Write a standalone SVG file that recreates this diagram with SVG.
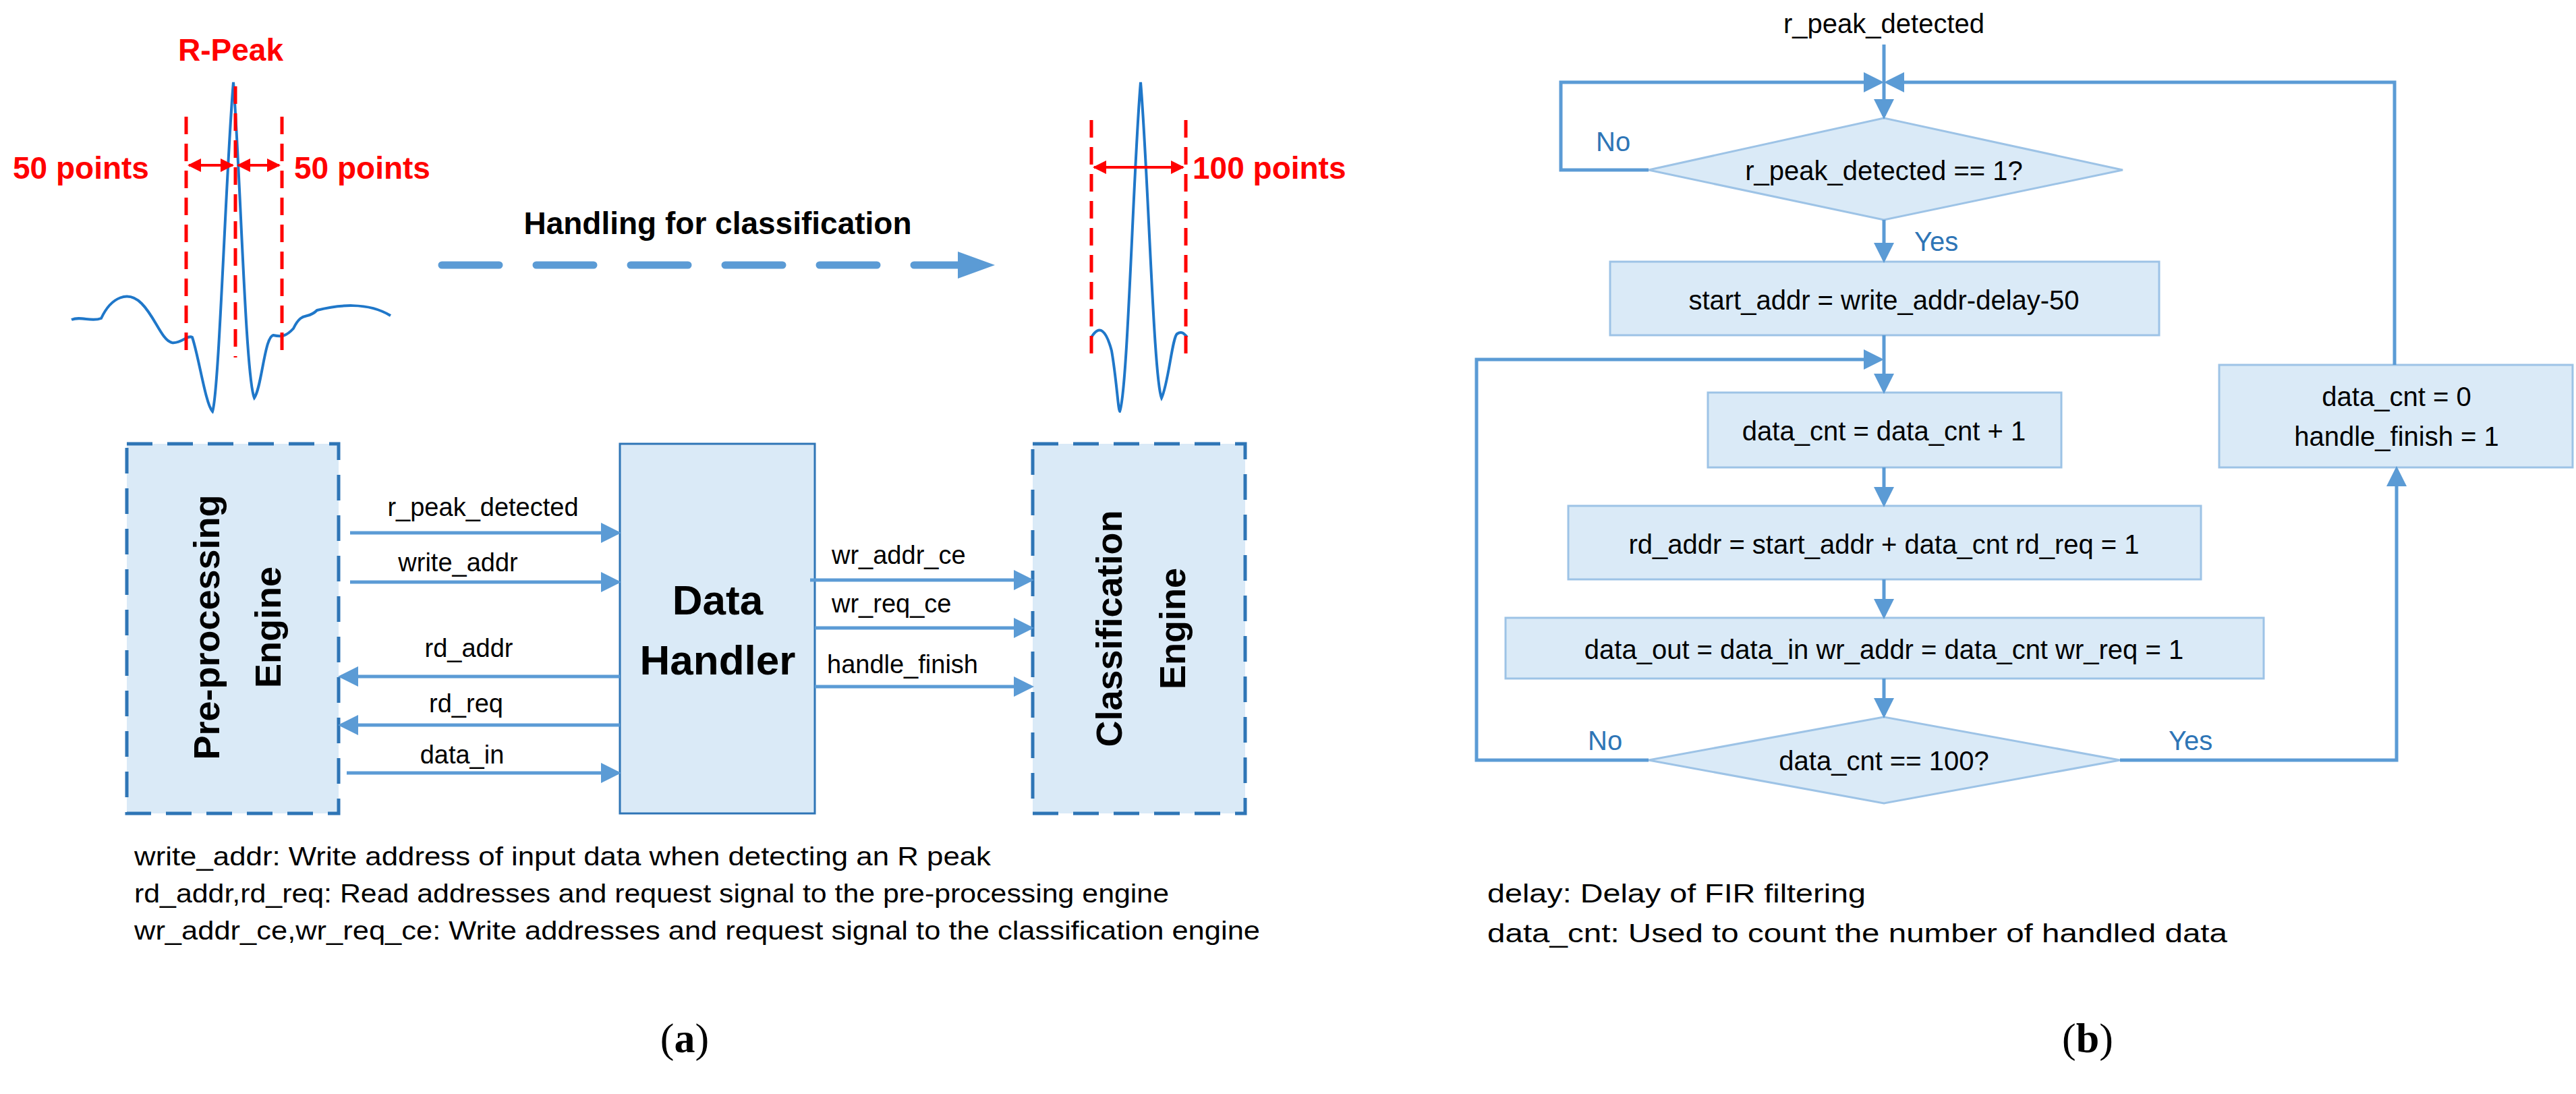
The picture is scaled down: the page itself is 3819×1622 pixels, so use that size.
<svg xmlns="http://www.w3.org/2000/svg" width="3819" height="1622" viewBox="0 0 3819 1622">
<style>
.t{font-family:"Liberation Sans",Arial,sans-serif;font-size:38px;fill:#000}
.ft{font-family:"Liberation Sans",Arial,sans-serif;font-size:40px;fill:#000;text-anchor:middle}
.red{font-family:"Liberation Sans",Arial,sans-serif;font-size:46px;font-weight:bold;fill:#FF0000}
.big{font-family:"Liberation Sans",Arial,sans-serif;font-weight:bold;fill:#000;text-anchor:middle}
.yn{font-family:"Liberation Sans",Arial,sans-serif;font-size:40px;fill:#2E75B6}
.cap{font-family:"Liberation Serif","Times New Roman",serif;font-size:62px;fill:#000;text-anchor:middle}
.ln{stroke:#5B9BD5;stroke-width:5;fill:none}
.box{fill:#DAEAF7;stroke:#9DC3E6;stroke-width:3}
.eng{fill:#DAEAF7;stroke:#2E75B6;stroke-width:5;stroke-dasharray:38,22}
.rd{stroke:#FF0000;stroke-width:5;stroke-dasharray:26,14;fill:none}
.ecg{stroke:#1F77C9;stroke-width:4;fill:none}
</style>
<defs>
<marker id="ah" markerWidth="6" markerHeight="6" refX="5" refY="3" orient="auto" markerUnits="strokeWidth"><path d="M0,0L6,3L0,6z" fill="#5B9BD5"/></marker>
<marker id="rh" markerWidth="5" markerHeight="5" refX="4.5" refY="2.5" orient="auto-start-reverse" markerUnits="strokeWidth"><path d="M0,0L5,2.5L0,5z" fill="#FF0000"/></marker>
</defs>

<g id="ecg-left">
<path class="ecg" d="M106,474 C120,468 135,478 150,472 C165,440 190,430 210,450 C230,470 240,505 255,508 C268,510 278,496 285,500 C295,530 305,600 315,610 C325,580 335,250 346,122 C356,250 364,560 377,590 C388,575 392,500 405,497 C418,500 425,498 435,487 C448,460 455,475 470,460 C500,452 545,447 579,468"/>
<line class="rd" x1="276" y1="173" x2="276" y2="530"/>
<line class="rd" x1="349" y1="128" x2="349" y2="530"/>
<line class="rd" x1="418" y1="173" x2="418" y2="530"/>
<line x1="280" y1="245" x2="345" y2="245" stroke="#FF0000" stroke-width="4" marker-start="url(#rh)" marker-end="url(#rh)"/>
<line x1="353" y1="245" x2="414" y2="245" stroke="#FF0000" stroke-width="4" marker-start="url(#rh)" marker-end="url(#rh)"/>
<text class="red" x="342" y="90" text-anchor="middle">R-Peak</text>
<text class="red" x="19" y="265">50 points</text>
<text class="red" x="436" y="265">50 points</text>
</g>

<g id="ecg-right">
<path class="ecg" d="M1618,500 C1630,480 1640,490 1648,520 C1655,560 1658,610 1660,610 C1672,580 1680,250 1691,122 C1702,250 1710,560 1722,590 C1732,570 1738,500 1745,495 C1752,490 1756,495 1760,500"/>
<line class="rd" x1="1618" y1="178" x2="1618" y2="535"/>
<line class="rd" x1="1758" y1="178" x2="1758" y2="535"/>
<line x1="1622" y1="248" x2="1754" y2="248" stroke="#FF0000" stroke-width="4" marker-start="url(#rh)" marker-end="url(#rh)"/>
<text class="red" x="1768" y="265">100 points</text>
</g>

<g id="handling">
<text class="big" x="1064" y="347" font-size="46">Handling for classification</text>
<line x1="655" y1="393" x2="1420" y2="393" stroke="#5B9BD5" stroke-width="11" stroke-dasharray="85,55" stroke-linecap="round"/>
<path d="M1420,373 L1475,393 L1420,413 z" fill="#5B9BD5"/>
</g>

<g id="preproc">
<rect class="eng" x="188" y="658" width="314" height="548"/>
<text class="big" font-size="54" transform="translate(325,930) rotate(-90)">Pre-processing</text>
<text class="big" font-size="54" transform="translate(416,930) rotate(-90)">Engine</text>
</g>
<g id="datahandler">
<rect x="919" y="658" width="289" height="548" fill="#DAEAF7" stroke="#2E75B6" stroke-width="3"/>
<text class="big" font-size="62" x="1064" y="911">Data</text>
<text class="big" font-size="62" x="1064" y="1000">Handler</text>
</g>
<g id="classif">
<rect class="eng" x="1531" y="658" width="315" height="548"/>
<text class="big" font-size="54" transform="translate(1663,932) rotate(-90)">Classification</text>
<text class="big" font-size="54" transform="translate(1757,932) rotate(-90)">Engine</text>
</g>

<g id="connectors-a">
<line class="ln" x1="519" y1="790" x2="916" y2="790" marker-end="url(#ah)"/>
<line class="ln" x1="519" y1="863" x2="916" y2="863" marker-end="url(#ah)"/>
<line class="ln" x1="919" y1="1003" x2="506" y2="1003" marker-end="url(#ah)"/>
<line class="ln" x1="919" y1="1075" x2="506" y2="1075" marker-end="url(#ah)"/>
<line class="ln" x1="514" y1="1146" x2="916" y2="1146" marker-end="url(#ah)"/>
<line class="ln" x1="1201" y1="860" x2="1528" y2="860" marker-end="url(#ah)"/>
<line class="ln" x1="1208" y1="931" x2="1528" y2="931" marker-end="url(#ah)"/>
<line class="ln" x1="1208" y1="1018" x2="1528" y2="1018" marker-end="url(#ah)"/>
<text class="t" x="716" y="765" text-anchor="middle">r_peak_detected</text>
<text class="t" x="679" y="847" text-anchor="middle">write_addr</text>
<text class="t" x="695" y="974" text-anchor="middle">rd_addr</text>
<text class="t" x="691" y="1056" text-anchor="middle">rd_req</text>
<text class="t" x="685" y="1132" text-anchor="middle">data_in</text>
<text class="t" x="1233" y="836">wr_addr_ce</text>
<text class="t" x="1233" y="908">wr_req_ce</text>
<text class="t" x="1226" y="998">handle_finish</text>
</g>

<g id="notes-a">
<text class="t" x="199" y="1283" textLength="1270" lengthAdjust="spacingAndGlyphs">write_addr: Write address of input data when detecting an R peak</text>
<text class="t" x="199" y="1338" textLength="1534" lengthAdjust="spacingAndGlyphs">rd_addr,rd_req: Read addresses and request signal to the pre-processing engine</text>
<text class="t" x="199" y="1393" textLength="1669" lengthAdjust="spacingAndGlyphs">wr_addr_ce,wr_req_ce:  Write addresses and request signal to the classification engine</text>
<text class="cap" x="1015" y="1560">(<tspan font-weight="bold">a</tspan>)</text>
</g>

<g id="flow-start">
<text class="ft" x="2793" y="49">r_peak_detected</text>
</g>
<g id="dec1">
<polygon class="box" points="2793,175 3147,252 2793,326 2444,252"/>
<text class="ft" x="2793" y="267">r_peak_detected == 1?</text>
</g>
<g id="box-start">
<rect class="box" x="2387" y="388" width="814" height="109"/>
<text class="ft" x="2793" y="459">start_addr = write_addr-delay-50</text>
</g>
<g id="box-inc">
<rect class="box" x="2532" y="582" width="524" height="111"/>
<text class="ft" x="2793" y="653">data_cnt = data_cnt + 1</text>
</g>
<g id="box-rd">
<rect class="box" x="2325" y="750" width="938" height="109"/>
<text class="ft" x="2793" y="821">rd_addr = start_addr + data_cnt  rd_req = 1</text>
</g>
<g id="box-wr">
<rect class="box" x="2232" y="916" width="1124" height="90"/>
<text class="ft" x="2793" y="977">data_out = data_in  wr_addr = data_cnt  wr_req = 1</text>
</g>
<g id="dec2">
<polygon class="box" points="2793,1063 3143,1127 2793,1191 2444,1127"/>
<text class="ft" x="2793" y="1142">data_cnt == 100?</text>
</g>
<g id="box-fin">
<rect class="box" x="3290" y="541" width="524" height="152"/>
<text class="ft" x="3553" y="602">data_cnt = 0</text>
<text class="ft" x="3553" y="661">handle_finish = 1</text>
</g>

<g id="connectors-b">
<line class="ln" x1="2793" y1="66" x2="2793" y2="172" marker-end="url(#ah)"/>
<polyline class="ln" points="2444,252 2314,252 2314,122 2788,122" marker-end="url(#ah)"/>
<polyline class="ln" points="3550,541 3550,122 2798,122" marker-end="url(#ah)"/>
<line class="ln" x1="2793" y1="326" x2="2793" y2="385" marker-end="url(#ah)"/>
<line class="ln" x1="2793" y1="497" x2="2793" y2="579" marker-end="url(#ah)"/>
<polyline class="ln" points="2444,1127 2189,1127 2189,533 2788,533" marker-end="url(#ah)"/>
<line class="ln" x1="2793" y1="693" x2="2793" y2="747" marker-end="url(#ah)"/>
<line class="ln" x1="2793" y1="859" x2="2793" y2="913" marker-end="url(#ah)"/>
<line class="ln" x1="2793" y1="1006" x2="2793" y2="1060" marker-end="url(#ah)"/>
<polyline class="ln" points="3143,1127 3553,1127 3553,696" marker-end="url(#ah)"/>
<text class="yn" x="2366" y="224">No</text>
<text class="yn" x="2838" y="372">Yes</text>
<text class="yn" x="2354" y="1112">No</text>
<text class="yn" x="3215" y="1112">Yes</text>
</g>

<g id="notes-b">
<text class="t" x="2205" y="1338" textLength="561" lengthAdjust="spacingAndGlyphs">delay: Delay of FIR filtering</text>
<text class="t" x="2205" y="1397" textLength="1097" lengthAdjust="spacingAndGlyphs">data_cnt: Used to count the number of handled data</text>
<text class="cap" x="3095" y="1560">(<tspan font-weight="bold">b</tspan>)</text>
</g>
</svg>
